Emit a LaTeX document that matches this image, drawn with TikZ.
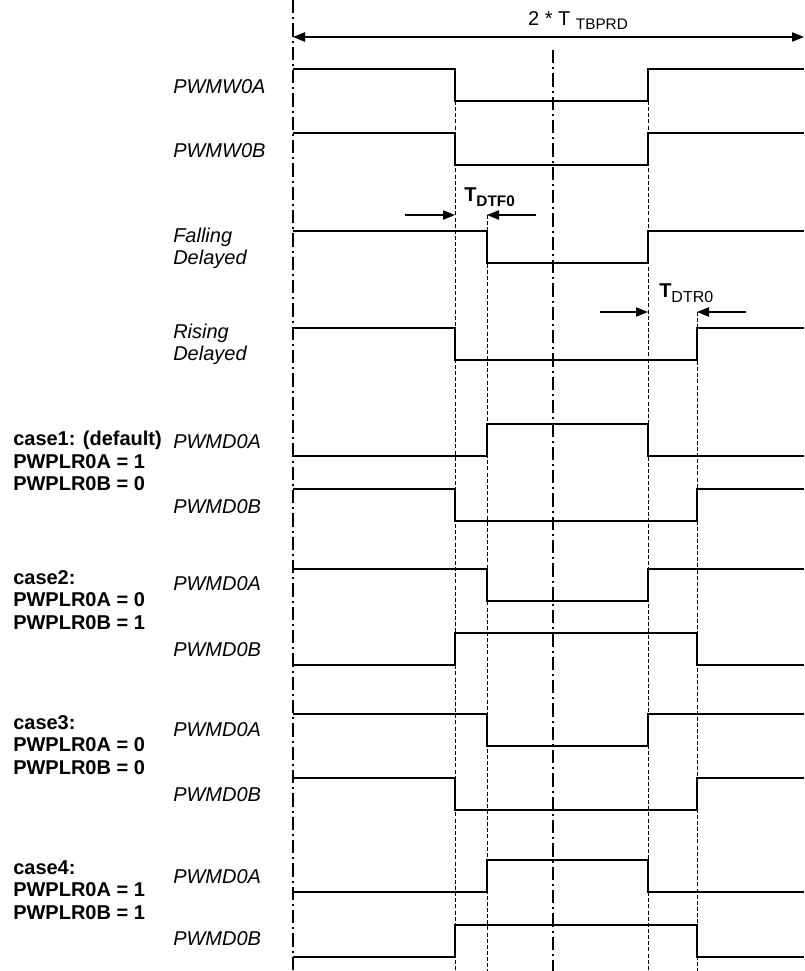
\documentclass[tikz,border=0pt]{standalone}
\usepackage{fontspec}
\setmainfont{Liberation Sans}
\usetikzlibrary{arrows.meta}

\begin{document}
\begin{tikzpicture}[
		x=0.75pt, y=-0.75pt,
		wave/.style={line width=1.6pt, line join=miter},
		guide/.style={line width=0.6pt, dash pattern=on 3pt off 1.6pt},
		axis/.style={line width=1.1pt, dash pattern=on 10pt off 3pt on 1.5pt off 3pt},
		dim/.style={line width=0.9pt, -{Triangle[length=9pt,width=7pt]}},
		sig/.style={anchor=west, inner sep=0pt, align=left, font=\fontsize{15}{16.5}\selectfont\itshape},
		case/.style={anchor=west, inner sep=0pt, align=left, font=\fontsize{15}{17}\selectfont\bfseries}
	]
	\useasboundingbox (0,0) rectangle (804,971);

	% centre lines
	\draw[axis] (293,0) -- (293,971);
	\draw[axis] (553,50) -- (553,971);

	% edge guides
	\draw[guide] (455,101) -- (455,971);
	\draw[guide] (648,101) -- (648,971);
	\draw[guide] (487,215) -- (487,971);
	\draw[guide] (697,312) -- (697,971);

	% period
	\coordinate (pl) at (293,37);
	\coordinate (pr) at (804,37);
	\draw[dim, {Triangle[length=9pt,width=7pt]}-{Triangle[length=9pt,width=7pt]}] (pl) -- (pr);
	\node[inner sep=0pt, font=\fontsize{15}{15}\selectfont] (tprd) at (578,21)
		{2 * T \raisebox{-3pt}{\fontsize{11.5}{11.5}\selectfont TBPRD}};

	% dead band falling
	\coordinate (dfa) at (405,215);
	\coordinate (dfb) at (455,215);
	\coordinate (dfc) at (536,215);
	\coordinate (dfd) at (487,215);
	\draw[dim] (dfa) -- (dfb);
	\draw[dim] (dfc) -- (dfd);
	\node[inner sep=0pt, anchor=west, font=\fontsize{15}{15}\selectfont\bfseries] (tdtf) at (464,197)
		{T\raisebox{-4pt}{\fontsize{11.5}{11.5}\selectfont DTF0}};

	% dead band rising
	\coordinate (dra) at (600,312);
	\coordinate (drb) at (648,312);
	\coordinate (drc) at (746,312);
	\coordinate (drd) at (697,312);
	\draw[dim] (dra) -- (drb);
	\draw[dim] (drc) -- (drd);
	\node[inner sep=0pt, anchor=west, font=\fontsize{15}{15}\selectfont\bfseries] (tdtr) at (659,293)
		{T\raisebox{-4pt}{\fontsize{12}{12}\mdseries\selectfont DTR0}};

	% input and delayed waves
	\node[sig] (mwa) at (173,87) {PWMW0A};
	\draw[wave] (293,69) -| (455,101) -| (648,69) -- (804,69);
	\node[sig] (mwb) at (173,151) {PWMW0B};
	\draw[wave] (293,133) -| (455,165) -| (648,133) -- (804,133);
	\node[sig] (fd) at (173,248) {Falling\\Delayed};
	\draw[wave] (293,231) -| (487,263) -| (648,231) -- (804,231);
	\node[sig] (rd) at (173,344) {Rising\\Delayed};
	\draw[wave] (293,328) -| (455,360) -| (697,328) -- (804,328);

	% case 1
	\node[case] (c1) at (13,461) {case1: (default)\\PWPLR0A = 1\\PWPLR0B = 0};
	\node[sig] (c1a) at (173,442) {PWMD0A};
	\draw[wave] (293,456) -| (487,424) -| (648,456) -- (804,456);
	\node[sig] (c1b) at (173,507) {PWMD0B};
	\draw[wave] (293,489) -| (455,521) -| (697,489) -- (804,489);

	% case 2
	\node[case] (c2) at (13,600) {case2:\\PWPLR0A = 0\\PWPLR0B = 1};
	\node[sig] (c2a) at (173,584) {PWMD0A};
	\draw[wave] (293,569) -| (487,601) -| (648,569) -- (804,569);
	\node[sig] (c2b) at (173,650) {PWMD0B};
	\draw[wave] (293,665) -| (455,633) -| (697,665) -- (804,665);

	% case 3
	\node[case] (c3) at (13,745) {case3:\\PWPLR0A = 0\\PWPLR0B = 0};
	\node[sig] (c3a) at (173,730) {PWMD0A};
	\draw[wave] (293,714) -| (487,746) -| (648,714) -- (804,714);
	\node[sig] (c3b) at (173,795) {PWMD0B};
	\draw[wave] (293,778) -| (455,810) -| (697,778) -- (804,778);

	% case 4
	\node[case] (c4) at (13,890) {case4:\\PWPLR0A = 1\\PWPLR0B = 1};
	\node[sig] (c4a) at (173,877) {PWMD0A};
	\draw[wave] (293,892) -| (487,860) -| (648,892) -- (804,892);
	\node[sig] (c4b) at (173,939) {PWMD0B};
	\draw[wave] (293,957) -| (455,925) -| (697,957) -- (804,957);
\end{tikzpicture}
\end{document}
